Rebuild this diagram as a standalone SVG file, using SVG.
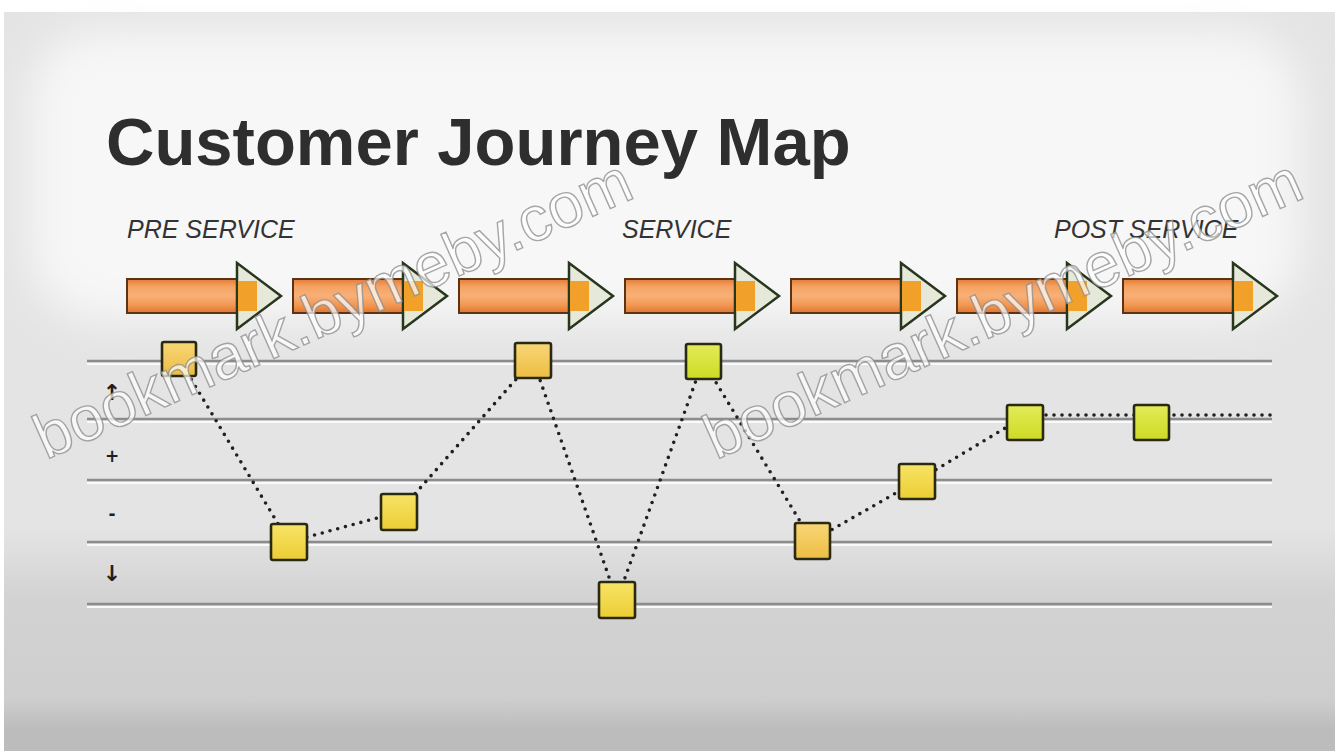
<svg xmlns="http://www.w3.org/2000/svg" width="1335" height="751" viewBox="0 0 1335 751">
  <defs>
    <style>
      .title { font-family: "Liberation Sans", Arial, sans-serif; font-weight: bold; font-size: 67px; fill: #2e2e2e; }
      .phase { font-family: "Liberation Sans", Arial, sans-serif; font-style: italic; font-size: 25px; fill: #333333; }
      .axis { font-family: "DejaVu Sans", sans-serif; font-weight: bold; font-size: 17px; fill: #1e1e1e; text-anchor: middle; }
      .axis-arrow { font-size: 22px; }
      .rule-dark { stroke: #8c8c8c; stroke-width: 2.5; }
      .rule-light { stroke: #fafafa; stroke-width: 2; }
      .shaft { fill: url(#shaftGrad); stroke: #5b3415; stroke-width: 2; }
      .head { fill: #e6e9da; stroke: #27361c; stroke-width: 2.5; stroke-linejoin: miter; }
      .headfill { fill: #f1a12a; }
      .dots { fill: none; stroke: #202020; stroke-width: 3.6; stroke-linecap: round; stroke-dasharray: 0 8; }
      .node rect { stroke: #2a2a12; stroke-width: 2.6; }
      .wm { font-family: "Liberation Sans", Arial, sans-serif; font-size: 63px; fill: #ffffff; fill-opacity: 0.7; stroke: #8a8a8a; stroke-width: 1.4; stroke-opacity: 0.75; }
    </style>
    <linearGradient id="shaftGrad" x1="0" y1="0" x2="0" y2="1">
      <stop offset="0" stop-color="#e47c36"/>
      <stop offset="0.22" stop-color="#f5a262"/>
      <stop offset="0.5" stop-color="#f8b078"/>
      <stop offset="0.78" stop-color="#f19650"/>
      <stop offset="1" stop-color="#de7632"/>
    </linearGradient>
    <linearGradient id="gold" x1="0" y1="0" x2="0" y2="1">
      <stop offset="0" stop-color="#f8d676"/>
      <stop offset="1" stop-color="#edbd44"/>
    </linearGradient>
    <linearGradient id="yellow" x1="0" y1="0" x2="0" y2="1">
      <stop offset="0" stop-color="#f7e466"/>
      <stop offset="1" stop-color="#eccd34"/>
    </linearGradient>
    <linearGradient id="lime" x1="0" y1="0" x2="0" y2="1">
      <stop offset="0" stop-color="#e3ec58"/>
      <stop offset="1" stop-color="#cdda24"/>
    </linearGradient>
    <!-- background darkens toward the bottom of the slide -->
    <linearGradient id="floor" x1="0" y1="0" x2="0" y2="1">
      <stop offset="0" stop-color="#e4e4e4"/>
      <stop offset="0.7" stop-color="#e4e4e4"/>
      <stop offset="0.79" stop-color="#d3d3d3"/>
      <stop offset="0.93" stop-color="#cecece"/>
      <stop offset="0.97" stop-color="#bcbcbc"/>
      <stop offset="1" stop-color="#bcbcbc"/>
    </linearGradient>
    <filter id="soft" x="-10%" y="-20%" width="120%" height="140%">
      <feGaussianBlur stdDeviation="22"/>
    </filter>
    <!-- one arrow: shaft, outlined head, orange core running into the head -->
    <g id="stepArrow">
      <rect class="shaft" x="0" y="279" width="110" height="34"/>
      <polygon class="head" points="110,263 154,296 110,329"/>
      <rect class="headfill" x="111" y="281" width="19" height="30"/>
    </g>
  </defs>

  <!-- slide background -->
  <rect x="0" y="0" width="1335" height="751" fill="#ffffff"/>
  <rect x="4" y="12" width="1331" height="739" fill="url(#floor)"/>
  <rect x="30" y="30" width="1270" height="290" rx="70" fill="#f7f7f7" filter="url(#soft)"/>

  <!-- title and phase labels -->
  <g id="title">
    <text class="title" x="106" y="165">Customer Journey Map</text>
  </g>
  <g id="phases">
    <text class="phase" x="127" y="238">PRE SERVICE</text>
    <text class="phase" x="622" y="238">SERVICE</text>
    <text class="phase" x="1054" y="238">POST SERVICE</text>
  </g>

  <!-- step arrows -->
  <g id="arrows">
    <use href="#stepArrow" x="127"/>
    <use href="#stepArrow" x="293"/>
    <use href="#stepArrow" x="459"/>
    <use href="#stepArrow" x="625"/>
    <use href="#stepArrow" x="791"/>
    <use href="#stepArrow" x="957"/>
    <use href="#stepArrow" x="1123"/>
  </g>

  <!-- emotion scale rules -->
  <g id="rules">
    <line class="rule-dark" x1="87" y1="361" x2="1272" y2="361"/>
    <line class="rule-light" x1="87" y1="364" x2="1272" y2="364"/>
    <line class="rule-dark" x1="87" y1="419" x2="1272" y2="419"/>
    <line class="rule-light" x1="87" y1="422" x2="1272" y2="422"/>
    <line class="rule-dark" x1="87" y1="480" x2="1272" y2="480"/>
    <line class="rule-light" x1="87" y1="483" x2="1272" y2="483"/>
    <line class="rule-dark" x1="87" y1="542" x2="1272" y2="542"/>
    <line class="rule-light" x1="87" y1="545" x2="1272" y2="545"/>
    <line class="rule-dark" x1="87" y1="604" x2="1272" y2="604"/>
    <line class="rule-light" x1="87" y1="607" x2="1272" y2="607"/>
  </g>

  <g id="scale">
    <text class="axis axis-arrow" x="112" y="400">↑</text>
    <text class="axis" x="112" y="462">+</text>
    <text class="axis" x="112" y="520">-</text>
    <text class="axis axis-arrow" x="112" y="581">↓</text>
  </g>

  <!-- dotted journey path -->
  <g id="connectors">
    <polyline class="dots" points="179,359 289,542 399,512 533,360 617,600 703,361 812,541 917,481 1022,418"/>
    <polyline class="dots" points="1022,415 1151,415 1272,415"/>
  </g>

  <!-- touchpoints -->
  <g id="tp1" class="node"><rect x="162" y="342" width="34" height="34" rx="2" fill="url(#gold)"/></g>
  <g id="tp2" class="node"><rect x="271" y="524" width="36" height="36" rx="2" fill="url(#yellow)"/></g>
  <g id="tp3" class="node"><rect x="381" y="494" width="36" height="36" rx="2" fill="url(#yellow)"/></g>
  <g id="tp4" class="node"><rect x="515" y="343" width="36" height="35" rx="2" fill="url(#gold)"/></g>
  <g id="tp5" class="node"><rect x="599" y="582" width="36" height="36" rx="2" fill="url(#yellow)"/></g>
  <g id="tp6" class="node"><rect x="686" y="344" width="35" height="35" rx="2" fill="url(#lime)"/></g>
  <g id="tp7" class="node"><rect x="795" y="523" width="35" height="36" rx="2" fill="url(#gold)"/></g>
  <g id="tp8" class="node"><rect x="899" y="464" width="36" height="35" rx="2" fill="url(#yellow)"/></g>
  <g id="tp9" class="node"><rect x="1007" y="405" width="36" height="35" rx="2" fill="url(#lime)"/></g>
  <g id="tp10" class="node"><rect x="1134" y="405" width="35" height="35" rx="2" fill="url(#lime)"/></g>

  <!-- site stamp -->
  <g id="stamp">
    <text class="wm" transform="translate(46 460) rotate(-24)">bookmark.bymeby.com</text>
    <text class="wm" transform="translate(716 460) rotate(-24)">bookmark.bymeby.com</text>
  </g>
</svg>
